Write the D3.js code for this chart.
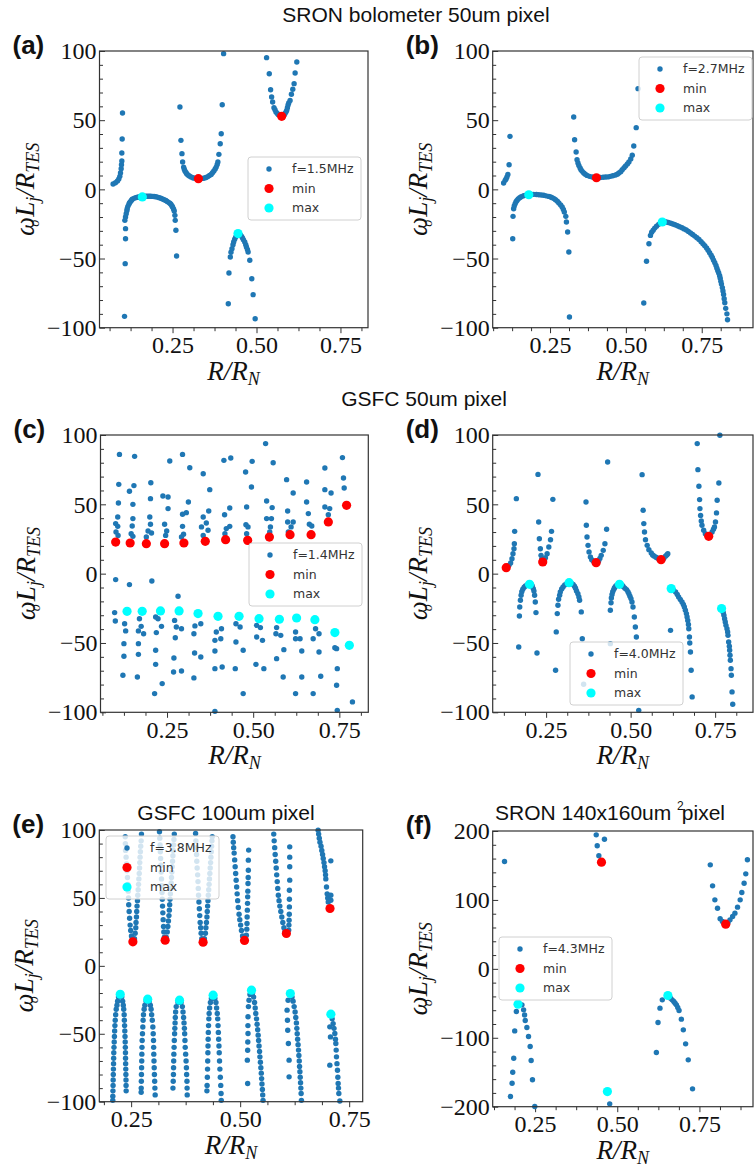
<!DOCTYPE html>
<html lang="en">
<head>
<meta charset="utf-8">
<title>Chart</title>
<script src="https://d3js.org/d3.v7.min.js"></script>
<style>
body { margin: 0; background: #fff; }
</style>
</head>
<body>
<script>
// ---------- data (x = R/R_N, y = omega L_j / R_TES) ----------
var freqLabels = ["f=1.5MHz", "f=2.7MHz", "f=1.4MHz", "f=4.0MHz", "f=3.8MHz", "f=4.3MHz"];
var xTicks = [0.25, 0.5, 0.75];
var yTicks100 = [-100, -50, 0, 50, 100];
var yTicks200 = [-200, -100, 0, 100, 200];

var aBlue = [[0.073,3.9],[0.080,4.8],[0.086,6.0],[0.090,7.5],[0.093,9.4],[0.095,11.8],[0.097,14.9],[0.098,17.8],[0.099,20.5],[0.099,26.3],[0.100,36.4],[0.101,55.2],
[0.107,-91.8],[0.109,-53.7],[0.110,-35.7],[0.110,-28.4],[0.108,-22.4],[0.110,-20],[0.112,-17.6],[0.114,-15.5],[0.115,-14],[0.117,-12.3],[0.12,-10.8],[0.122,-9.7],[0.125,-8.7],[0.128,-7.8],[0.13,-7.2],[0.135,-6.5],[0.14,-6],[0.145,-5.7],[0.15,-5.5],[0.155,-5.4],[0.165,-5.2],[0.17,-5],[0.175,-5],[0.18,-5],[0.185,-5],[0.19,-5.1],[0.195,-5.2],[0.2,-5.4],[0.205,-5.6],[0.21,-6],[0.215,-6.4],[0.22,-7],[0.225,-7.5],[0.23,-8],[0.234,-8.7],[0.238,-9.4],[0.242,-10.1],[0.245,-10.8],[0.248,-11.8],[0.25,-12.8],[0.253,-14.2],[0.255,-15.7],[0.257,-18.8],[0.258,-22.4],[0.26,-29.6],[0.262,-48.2],
[0.272,59.5],[0.275,35.4],[0.278,25.8],[0.28,19.8],[0.283,16.1],[0.285,14.5],[0.287,13.3],[0.29,12.2],[0.292,11.3],[0.296,10.4],[0.3,9.6],[0.305,9],[0.31,8.4],[0.315,8.1],[0.32,8],[0.335,7.8],[0.34,7.9],[0.345,8.2],[0.35,8.6],[0.355,9.2],[0.36,10],[0.365,10.8],[0.369,12],[0.373,13.3],[0.377,14.7],[0.38,16.1],[0.383,18],[0.385,19.8],[0.388,25.3],[0.392,33],[0.395,40.2],[0.398,61.2],[0.402,98.1],
[0.416,-82.7],[0.418,-60.5],[0.422,-48.9],[0.424,-45.5],[0.427,-42.9],[0.43,-40],[0.432,-38],[0.435,-36],[0.438,-34.5],[0.441,-33.3],[0.449,-32.3],[0.452,-33],[0.455,-33.8],[0.458,-35],[0.461,-36.4],[0.465,-38],[0.468,-40],[0.47,-41.7],[0.473,-43.5],[0.475,-45.3],[0.48,-51.3],[0.486,-64.6],[0.49,-76.1],[0.496,-93.5],
[0.53,95.2],[0.538,83.6],[0.542,72],[0.545,66.7],[0.548,63.1],[0.552,59],[0.555,57.5],[0.558,55.9],[0.562,54.8],[0.565,54],[0.57,53.3],[0.58,53.2],[0.582,53.8],[0.585,54.8],[0.588,56],[0.59,57.1],[0.592,59],[0.594,61],[0.596,62.5],[0.6,64.3],[0.604,68.7],[0.608,72.4],[0.612,76.4],[0.615,84.1],[0.62,92]];
var aMin = [[0.327,7.7],[0.575,52.8]];
var aMax = [[0.16,-5.5],[0.445,-32]];

var bBlue = [[0.097,4.6],[0.102,6.5],[0.105,7.5],[0.108,8.9],[0.111,10.8],[0.115,17.8],[0.118,38.3],
[0.127,-35.7],[0.128,-19.5],[0.13,-14],[0.132,-12],[0.135,-10.4],[0.138,-9],[0.141,-8],[0.145,-7],[0.15,-6],[0.155,-5.3],[0.163,-4.6],[0.17,-4.2],[0.188,-3.7],[0.196,-3.6],[0.205,-3.7],[0.213,-3.9],[0.221,-4.1],[0.229,-4.3],[0.237,-4.7],[0.246,-5.1],[0.252,-5.5],[0.257,-6],[0.263,-6.7],[0.268,-7.5],[0.274,-8.6],[0.279,-9.9],[0.285,-11.3],[0.29,-12.8],[0.294,-14.5],[0.297,-16.4],[0.302,-19.5],[0.304,-23.6],[0.308,-30.8],[0.312,-45.3],[0.314,-92.3],
[0.328,52.3],[0.331,35.9],[0.336,27],[0.339,21.4],[0.342,19],[0.345,17.3],[0.349,15.5],[0.352,14.2],[0.356,13],[0.361,11.8],[0.366,10.9],[0.372,10.1],[0.38,9.4],[0.389,8.9],[0.396,8.6],[0.41,8.5],[0.416,8.6],[0.425,8.7],[0.433,8.9],[0.441,9],[0.449,9.4],[0.457,9.8],[0.466,10.4],[0.472,11],[0.477,11.8],[0.483,12.8],[0.488,14.2],[0.494,15.6],[0.499,16.9],[0.505,18.4],[0.51,19.8],[0.516,22],[0.521,24.6],[0.526,31.3],[0.534,44.6],[0.54,72.8],
[0.559,-82.2],[0.568,-52],[0.576,-39.3],[0.581,-33.3],[0.585,-31],[0.59,-29.6],[0.595,-28],[0.601,-26.7],[0.608,-25.3],[0.614,-24.3],[0.627,-23.3],[0.633,-23.6],[0.64,-24],[0.648,-24.5],[0.655,-25],[0.662,-25.6],[0.67,-26.3],[0.677,-27],[0.685,-27.8],[0.692,-28.6],[0.699,-29.4],[0.706,-30.4],[0.713,-31.5],[0.72,-32.6],[0.727,-33.8],[0.734,-35],[0.741,-36.3],[0.748,-37.8],[0.754,-39.3],[0.76,-40.8],[0.766,-42.4],[0.771,-44],[0.776,-45.8],[0.781,-47.6],[0.785,-49.3],[0.789,-51.3],[0.793,-53],[0.797,-55],[0.8,-57],[0.803,-58.8],[0.806,-60.5],[0.809,-62.5],[0.811,-64.3],[0.813,-66.5],[0.815,-68.5],[0.818,-71],[0.82,-73.5],[0.822,-76],[0.824,-79],[0.826,-82],[0.829,-86],[0.833,-90],[0.835,-94.2]];
var bMin = [[0.403,8.4]];
var bMax = [[0.18,-3.9],[0.62,-23.6]];

var cBlue = [[0.112,86],[0.156,84.6],[0.258,81.3],[0.295,86],[0.316,76.4],[0.355,72.1],[0.374,60.6],[0.415,81.7],[0.435,83.4],[0.478,73.3],[0.497,81],[0.495,62.5],[0.536,93.8],[0.558,80],[0.597,67.8],[0.616,58.2],[0.655,66.1],[0.708,76.2],[0.708,60.6],[0.726,58.2],[0.759,83.7],[0.762,69],[0.764,61.8],
[0.110,64.4],[0.154,63.5],[0.141,59.4],[0.203,65.6],[0.202,54.1],[0.238,56],[0.253,55.3],[0.253,46.9],[0.312,51.7],[0.295,42.8],[0.306,44],[0.371,45.2],[0.355,40.9],[0.432,47.4],[0.417,42.5],[0.481,48.1],[0.479,35.3],[0.539,52.4],[0.555,47.6],[0.539,39.7],[0.553,39.7],[0.6,45.2],[0.6,37.3],[0.616,37.3],[0.655,51.7],[0.66,43.3],[0.663,35.6],[0.67,34.4],[0.708,48.1],[0.722,46.9],[0.718,42.5],
[0.109,51],[0.107,40.9],[0.101,36.1],[0.107,34.1],[0.102,30],[0.108,27.6],[0.151,50],[0.151,39.7],[0.149,34.4],[0.146,28.8],[0.151,26.9],[0.2,40.9],[0.202,35.6],[0.195,30.8],[0.205,29.3],[0.19,26.4],[0.243,35.6],[0.249,30.8],[0.246,27.6],[0.295,34.1],[0.298,28.4],[0.292,26.4],[0.35,33.7],[0.364,36.5],[0.355,27.6],[0.369,31.3],[0.422,32.5],[0.432,34.1],[0.418,28.8],[0.485,33.7],[0.481,28.8],[0.55,33.7],[0.548,30],[0.602,30],[0.61,33.7],
[0.101,-4.3],[0.141,-7.9],[0.206,-5.3],[0.282,-16.3],[0.098,-28.1],[0.1,-34.1],
[0.127,-36.1],[0.13,-41.3],[0.125,-50.5],[0.125,-59.6],[0.122,-73.3],[0.17,-32.5],[0.175,-38],[0.167,-41.3],[0.182,-43.3],[0.167,-50.5],[0.167,-58.2],[0.164,-74.5],[0.217,-31.3],[0.224,-32.5],[0.234,-38],[0.219,-42.5],[0.217,-55.3],[0.217,-65.4],[0.214,-86.5],[0.236,-79.3],[0.272,-33.7],[0.277,-38.5],[0.292,-39.7],[0.274,-46.2],[0.27,-60.8],[0.269,-70.9],[0.292,-70.2],[0.331,-37.7],[0.348,-36.1],[0.328,-43.3],[0.33,-57.2],[0.348,-60.1],[0.328,-75.2],[0.393,-42.1],[0.408,-39.7],[0.389,-48.1],[0.406,-46.9],[0.389,-55.8],[0.389,-68.5],[0.41,-67.3],[0.389,-99.3],[0.45,-36.1],[0.462,-38.5],[0.45,-49.3],[0.471,-55.3],[0.448,-68.5],[0.471,-86.5],[0.51,-37.3],[0.521,-38.9],[0.51,-45.7],[0.527,-48.1],[0.508,-65.4],[0.531,-68.5],[0.568,-38.9],[0.566,-43.3],[0.58,-44.5],[0.568,-61.3],[0.589,-54.8],[0.587,-74.5],[0.623,-42.1],[0.636,-46.9],[0.623,-46.9],[0.641,-55.8],[0.641,-74.5],[0.623,-86.5],[0.681,-39.7],[0.691,-43.3],[0.674,-46.9],[0.691,-56.5],[0.696,-74],[0.674,-86.5],[0.742,-54.1],[0.737,-53.4],[0.744,-68.5],[0.742,-80.5],[0.744,-98.6],[0.788,-92.5]];
var cMin = [[0.101,22.8],[0.143,22.1],[0.19,21.6],[0.243,21.6],[0.299,22.1],[0.361,23.3],[0.42,24.5],[0.484,24],[0.547,26.4],[0.607,28.1],[0.668,28.1],[0.718,37.3],[0.771,49.3]];
var cMax = [[0.134,-27.2],[0.178,-27.2],[0.231,-26.9],[0.285,-26.9],[0.34,-28.8],[0.398,-30.8],[0.459,-30.8],[0.517,-32.5],[0.576,-32.9],[0.626,-32],[0.679,-33.2],[0.737,-42.5],[0.779,-51.7]];

var dBlue = [[0.14,6],[0.145,7.7],[0.149,10.8],[0.152,14.4],[0.155,18],[0.156,21.6],[0.157,30.5],[0.162,54.1],
[0.226,71.6],[0.228,37.3],[0.23,25.2],[0.233,18],[0.235,13.2],[0.237,10.5],[0.245,9.5],[0.248,11.5],[0.253,14.4],[0.258,19.2],[0.263,24.5],[0.266,30.5],[0.27,53.6],
[0.368,51.7],[0.369,34.9],[0.371,26.4],[0.374,20.4],[0.377,15.6],[0.381,12],[0.385,10],[0.39,9],[0.405,9],[0.409,11],[0.413,13.2],[0.419,16.8],[0.424,21.6],[0.429,32],[0.432,80.5],
[0.534,71.4],[0.537,45.7],[0.539,36.1],[0.541,30],[0.544,24.5],[0.549,20.4],[0.554,17.3],[0.561,14.9],[0.565,13.5],[0.569,12.7],[0.575,11.8],[0.579,11.3],[0.584,10.6],[0.598,11],[0.603,12.5],[0.607,13.5],[0.61,14.4],
[0.697,93.8],[0.699,75],[0.702,63],[0.704,53.4],[0.705,46.9],[0.707,42],[0.709,38],[0.711,34.9],[0.716,31.3],[0.721,28.8],[0.741,30],[0.745,32],[0.748,33.7],[0.751,37.3],[0.754,43.8],[0.756,52.9],[0.761,65.4],[0.764,99.8],
[0.169,-52.9],[0.171,-30.5],[0.172,-24],[0.174,-19.2],[0.176,-15.6],[0.178,-13],[0.181,-11.3],[0.185,-9.8],[0.189,-8.9],[0.194,-8.2],[0.207,-8],[0.209,-9],[0.212,-10.8],[0.214,-12.5],[0.216,-15.6],[0.218,-20.4],[0.22,-28.1],[0.223,-57.2],
[0.278,-69.7],[0.28,-42],[0.283,-28.8],[0.285,-22.8],[0.287,-18.5],[0.29,-15.5],[0.292,-13.2],[0.296,-11],[0.3,-9.6],[0.305,-8.2],[0.311,-7.2],[0.325,-7],[0.33,-7.8],[0.334,-9],[0.337,-10.5],[0.34,-12.5],[0.344,-14.5],[0.347,-16.8],[0.349,-19.2],[0.354,-27.6],[0.357,-46.9],[0.361,-79.8],
[0.44,-50.5],[0.44,-26.4],[0.442,-21],[0.443,-17.5],[0.445,-15],[0.447,-13],[0.45,-11.5],[0.452,-10.3],[0.455,-9.3],[0.458,-8.5],[0.475,-8.3],[0.478,-9.3],[0.483,-10.5],[0.488,-11.5],[0.492,-13],[0.495,-14.5],[0.498,-16.3],[0.501,-18],[0.504,-20.5],[0.507,-24],[0.511,-31.3],[0.514,-38.5],[0.517,-45.7],[0.524,-98.6],
[0.618,-40.9],[0.627,-12],[0.633,-13.2],[0.638,-15],[0.642,-16.8],[0.647,-18.6],[0.652,-20.4],[0.656,-22.2],[0.659,-24],[0.662,-26.4],[0.665,-28.8],[0.667,-31.2],[0.669,-33.7],[0.671,-36.7],[0.672,-39.7],[0.674,-45.7],[0.675,-50],[0.677,-56.5],[0.679,-69.7],[0.682,-88.9],
[0.774,-28],[0.776,-30],[0.778,-32.5],[0.78,-34.9],[0.782,-37.3],[0.785,-39.7],[0.787,-42],[0.788,-44.5],[0.79,-49.3],[0.792,-52.3],[0.793,-55.3],[0.794,-58.8],[0.795,-62.5],[0.797,-68.5],[0.798,-73.3],[0.8,-85.3],[0.802,-94.2]];
var dMin = [[0.132,4.3],[0.24,8.4],[0.398,7.9],[0.59,10.1],[0.731,26.9]];
var dMax = [[0.201,-7.7],[0.318,-6.5],[0.467,-7.7],[0.62,-10.8],[0.769,-25.2]];

var eBlue = [
[0.2365,95],[0.2368,90],[0.2372,85],[0.2385,80],[0.2395,75],[0.2405,70],[0.2416,65],[0.2427,60],[0.2435,55],[0.244,50],[0.2445,45],[0.2455,40],[0.2465,35],[0.2477,30],[0.249,26],[0.2508,22],[0.2523,19],
[0.2577,20],[0.2592,24],[0.2607,28],[0.2612,32],[0.2622,36],[0.2628,40],[0.2635,44],[0.2645,48],[0.2652,52],[0.2661,56],[0.267,60],[0.2677,64],[0.2686,68],[0.2693,72],[0.2698,76],[0.2705,80],[0.2712,84],[0.272,88],[0.273,92],[0.2737,97],
[0.315,98.7],[0.3157,94],[0.3164,89],[0.317,84],[0.3176,79],[0.3182,74],[0.3189,69],[0.3196,64],[0.3202,59],[0.3208,54],[0.3214,49],[0.322,44],[0.3227,39],[0.3235,34],[0.3243,29],[0.325,25],[0.3262,21],
[0.3305,21],[0.3328,25],[0.3342,29],[0.3355,33],[0.3367,37],[0.3376,41],[0.3384,45],[0.3392,49],[0.34,53],[0.3409,57],[0.3418,61],[0.3426,65],[0.3434,69],[0.3442,73],[0.345,77],[0.3458,81],[0.3466,85],[0.3474,89],[0.3482,93],[0.349,97],
[0.3978,97.4],[0.3985,92],[0.3993,87],[0.4,82],[0.4006,77],[0.4014,72],[0.4025,67],[0.4033,62],[0.404,57],[0.4046,52],[0.4055,47],[0.4064,42],[0.4073,37],[0.4083,32],[0.4095,28],[0.4105,24],[0.412,20],
[0.418,20],[0.4203,24],[0.4215,28],[0.4227,32],[0.4238,36],[0.4246,40],[0.4254,44],[0.4262,48],[0.427,52],[0.4279,56],[0.4288,60],[0.4296,64],[0.4305,68],[0.4313,72],[0.4322,76],[0.433,80],[0.4338,84],[0.4345,88],[0.4353,92],[0.436,95],
[0.4835,95],[0.4843,91],[0.4851,87],[0.4862,83],[0.4874,78],[0.4886,73],[0.4897,68],[0.4908,63],[0.492,58],[0.4931,53],[0.4943,48],[0.4958,43],[0.4975,38],[0.4992,34],[0.5011,30],[0.503,26],[0.5055,22],[0.508,19],
[0.5142,22.6],[0.5152,27],[0.5157,31.2],[0.516,36],[0.5165,41],[0.5169,46],[0.5172,50.8],[0.5176,55],[0.518,60.6],[0.5184,65],[0.5188,70.4],[0.5188,77.8],[0.5195,85.2],
[0.577,97],[0.578,92],[0.5792,87],[0.5803,82],[0.5815,77],[0.5827,72],[0.5838,67],[0.585,62],[0.5862,57],[0.5876,52],[0.5892,48],[0.591,44],[0.5932,40],[0.5955,36],[0.5978,32],[0.6003,28],[0.6025,25],
[0.6114,26.3],[0.6118,30],[0.6122,33.6],[0.6126,38],[0.6129,43.4],[0.6129,49],[0.6129,55.7],[0.6137,63.1],[0.6137,72.9],[0.6137,80],[0.6137,87.6],
[0.6788,99.9],[0.68,97],[0.6815,94],[0.683,91],[0.6855,88],[0.6872,85],[0.689,82],[0.6905,79],[0.6922,76],[0.6935,73],[0.6949,70],[0.6958,67],[0.6964,64],[0.698,58],[0.6995,53],[0.7008,50],[0.702,47],[0.7079,48.3],[0.7079,52],[0.7079,77.3],
[0.221,-23],[0.219,-26],[0.2175,-29],[0.2158,-32],[0.2145,-36],[0.2135,-40],[0.2128,-44],[0.2122,-48],[0.2117,-52],[0.2112,-56],[0.2107,-60],[0.2102,-64],[0.2099,-68],[0.2097,-72],[0.2094,-76],[0.2091,-80],[0.2088,-84],[0.2086,-88],[0.2083,-92],[0.208,-96],[0.2079,-99],
[0.2285,-23],[0.2305,-26],[0.232,-29],[0.233,-32],[0.234,-36],[0.2345,-40],[0.235,-44],[0.2355,-48],[0.236,-52],[0.2364,-56],[0.2367,-60],[0.237,-64],[0.2372,-68],[0.2374,-72],[0.2377,-76],[0.238,-80],[0.2382,-84],[0.2384,-88],[0.2386,-92],
[0.2845,-26],[0.2815,-29],[0.2798,-32],[0.2783,-36],[0.2775,-40],[0.2768,-45],[0.276,-50],[0.2753,-55],[0.2749,-60],[0.2746,-65],[0.2743,-70],[0.274,-75],[0.2737,-80],[0.2734,-85],[0.2731,-90],[0.273,-93],
[0.2915,-26],[0.294,-29],[0.2958,-32],[0.297,-36],[0.2985,-40],[0.2998,-45],[0.3006,-50],[0.3013,-55],[0.3017,-60],[0.302,-65],[0.3024,-70],[0.3029,-75],[0.3034,-80],[0.304,-85],[0.3045,-90],[0.3051,-95],
[0.3575,-27],[0.3534,-30],[0.352,-34],[0.3513,-38],[0.3508,-42],[0.3502,-46],[0.3497,-50],[0.349,-55],[0.3485,-60],[0.348,-65],[0.3476,-70],[0.3473,-75],[0.347,-80],[0.3465,-85],[0.3459,-90],
[0.3645,-27],[0.3675,-30],[0.369,-34],[0.3703,-38],[0.3713,-42],[0.3722,-46],[0.3728,-50],[0.3734,-55],[0.374,-60],[0.375,-65],[0.376,-70],[0.3768,-75],[0.3773,-80],[0.378,-85],[0.3783,-90],[0.3786,-95],
[0.434,-24],[0.4318,-27],[0.43,-31],[0.4289,-35],[0.4282,-39],[0.4275,-44],[0.427,-49],[0.4266,-54],[0.4263,-59],[0.426,-64],[0.4256,-70],[0.4252,-76],[0.4248,-82],[0.4242,-88],[0.4238,-92],
[0.442,-24],[0.4445,-27],[0.446,-31],[0.4475,-35],[0.4485,-39],[0.4493,-44],[0.45,-49],[0.4507,-54],[0.4514,-59],[0.452,-64],[0.4527,-70],[0.4535,-76],[0.4545,-82],[0.4555,-88],[0.4562,-94],[0.4567,-99],
[0.5225,-21],[0.5203,-25.3],[0.519,-30],[0.518,-37.5],[0.5178,-44],[0.518,-49.8],[0.5175,-56],[0.5172,-62.1],[0.5165,-69.4],[0.5172,-86.6],
[0.5285,-20],[0.531,-23],[0.533,-27],[0.5345,-31],[0.5358,-35],[0.5375,-39],[0.5388,-43],[0.5402,-47],[0.5413,-51],[0.5423,-55],[0.5433,-59],[0.5445,-63],[0.5453,-67],[0.5464,-71],[0.5475,-75],[0.5485,-79],[0.5492,-83],[0.55,-87],[0.551,-91],[0.5517,-95],[0.5525,-99],
[0.6099,-25.3],[0.6076,-32.6],[0.6085,-40],[0.6091,-47.4],[0.6106,-57.2],[0.6122,-69.4],[0.6122,-81.7],
[0.619,-23],[0.6214,-26],[0.6238,-30],[0.626,-34],[0.6275,-38],[0.629,-42],[0.63,-46],[0.6308,-50],[0.6318,-54],[0.6328,-58],[0.6338,-62],[0.6347,-66],[0.6355,-70],[0.6362,-74],[0.637,-78],[0.6377,-82],[0.6385,-86],[0.6392,-90],[0.6398,-94],[0.6405,-99],
[0.7056,-44.9],[0.7071,-52.3],[0.7056,-73.1],
[0.711,-39],[0.7132,-42.5],[0.7152,-46],[0.7171,-49.8],[0.7185,-54],[0.7194,-57.2],[0.7202,-62],[0.7209,-67],[0.722,-72],[0.7232,-76.8],[0.724,-82],[0.7247,-86.6],[0.7255,-90],[0.7263,-94],[0.7286,-99.5]];
var eMin = [[0.254,17.7],[0.328,18.9],[0.415,17.4],[0.51,18.7],[0.606,23.8],[0.706,42.2]];
var eMax = [[0.225,-20.9],[0.288,-24.5],[0.361,-25.3],[0.438,-21.6],[0.526,-17.9],[0.615,-20.4],[0.708,-35.6]];

var fBlue = [[0.157,155.7],[0.436,194.4],[0.439,178.5],[0.444,164],[0.461,188.1],
[0.783,150.9],[0.79,120.4],[0.797,100.1],[0.805,88],[0.813,72.6],[0.82,68.7],[0.837,67.2],[0.843,71.1],[0.851,75.9],[0.858,80.8],[0.866,89.5],[0.874,100.1],[0.879,110.8],[0.886,124.3],[0.891,137.8],[0.896,158.2],
[0.193,-61.9],[0.188,-90],[0.185,-129.6],[0.182,-150],[0.18,-166],[0.175,-185.2],[0.21,-52.2],[0.215,-59.5],[0.218,-67],[0.22,-75],[0.225,-85.1],[0.23,-98.2],[0.235,-112.7],[0.238,-133],[0.242,-161],[0.249,-199.8],
[0.477,-195.9],
[0.637,-45],[0.63,-57],[0.624,-77.9],[0.619,-121.4],[0.662,-42.6],[0.667,-45],[0.672,-47.4],[0.676,-50],[0.68,-52.2],[0.684,-56],[0.688,-60.5],[0.695,-73],[0.701,-88.5],[0.708,-108.8],[0.716,-132],[0.729,-174.1]];
var fMin = [[0.452,154.8],[0.83,64.8]];
var fMax = [[0.198,-51.3],[0.47,-178],[0.654,-38.7]];

// ---------- layout ----------
var w = 754, h = 1168;
var svg = d3.select("body").append("svg").attr("width", w).attr("height", h);

var panels = [
  {tag:"(a)", blue:aBlue, min:aMin, max:aMax, f:freqLabels[0], box:[99.5,368,51,327.7], xd:[0.0325,0.832], yt:yTicks100, leg:[248,157]},
  {tag:"(b)", blue:bBlue, min:bMin, max:bMax, f:freqLabels[1], box:[492.7,753,51,327.7], xd:[0.061,0.919], yt:yTicks100, leg:[639,57]},
  {tag:"(c)", blue:cBlue, min:cMin, max:cMax, f:freqLabels[2], box:[100.5,368.3,435,712.3], xd:[0.057,0.834], yt:yTicks100, leg:[249,543]},
  {tag:"(d)", blue:dBlue, min:dMin, max:dMax, f:freqLabels[3], box:[492.7,753,435,712.3], xd:[0.092,0.862], yt:yTicks100, leg:[570,642]},
  {tag:"(e)", blue:eBlue, min:eMin, max:eMax, f:freqLabels[4], box:[99.3,362.7,830,1101.7], xd:[0.177,0.781], yt:yTicks100, leg:[106,836]},
  {tag:"(f)", blue:fBlue, min:fMin, max:fMax, f:freqLabels[5], box:[492.7,753,831,1106.7], xd:[0.121,0.913], yt:yTicks200, leg:[499,937]}
];

var serif = "'Liberation Serif', 'DejaVu Serif', serif";
var sans = "'Liberation Sans', Arial, sans-serif";
var blue = "#1f77b4";

panels.forEach(function(p) {
  var L = p.box[0], R = p.box[1], T = p.box[2], B = p.box[3];
  var x = d3.scaleLinear().domain(p.xd).range([L, R]);
  var yd = [p.yt[0], p.yt[p.yt.length - 1]];
  var y = d3.scaleLinear().domain(yd).range([B, T]);
  var g = svg.append("g");

  // minor ticks
  var xm = d3.range(Math.ceil(p.xd[0] / 0.0625) * 0.0625, p.xd[1], 0.0625)
    .filter(function(v) { return Math.abs(v / 0.25 - Math.round(v / 0.25)) > 1e-6; });
  var ystep = (p.yt[1] - p.yt[0]) / 5;
  var ym = d3.range(yd[0], yd[1] + 1e-9, ystep)
    .filter(function(v) { return p.yt.indexOf(Math.round(v)) < 0; });

  g.append("g").attr("transform", "translate(0," + B + ")")
    .call(d3.axisBottom(x).tickValues(xm).tickFormat("").tickSize(3.5))
    .call(function(s) { s.select(".domain").remove(); s.selectAll("line").attr("stroke", "#333"); });
  g.append("g").attr("transform", "translate(" + L + ",0)")
    .call(d3.axisLeft(y).tickValues(ym).tickFormat("").tickSizeInner(-3.5).tickSizeOuter(0))
    .call(function(s) { s.select(".domain").remove(); s.selectAll("line").attr("stroke", "#333"); });

  // major ticks
  g.append("g").attr("transform", "translate(0," + B + ")")
    .call(d3.axisBottom(x).tickValues(xTicks).tickFormat(d3.format(".2f")).tickSize(5.5).tickPadding(3))
    .call(function(s) {
      s.select(".domain").remove();
      s.selectAll("line").attr("stroke", "#333");
      s.selectAll("text").attr("font-family", serif).attr("font-size", 24).attr("fill", "#111");
    });
  g.append("g").attr("transform", "translate(" + L + ",0)")
    .call(d3.axisLeft(y).tickValues(p.yt).tickSizeInner(-5.5).tickSizeOuter(0).tickPadding(3))
    .call(function(s) {
      s.select(".domain").remove();
      s.selectAll("line").attr("stroke", "#333");
      s.selectAll("text").attr("font-family", serif).attr("font-size", 24).attr("fill", "#111");
    });

  // points
  g.append("g").selectAll("circle").data(p.blue).enter().append("circle")
    .attr("cx", function(d) { return x(d[0]); })
    .attr("cy", function(d) { return y(d[1]); })
    .attr("r", 2.7).attr("fill", blue);
  g.append("g").selectAll("circle").data(p.min).enter().append("circle")
    .attr("cx", function(d) { return x(d[0]); })
    .attr("cy", function(d) { return y(d[1]); })
    .attr("r", 4.6).attr("fill", "#ff0000");
  g.append("g").selectAll("circle").data(p.max).enter().append("circle")
    .attr("cx", function(d) { return x(d[0]); })
    .attr("cy", function(d) { return y(d[1]); })
    .attr("r", 4.6).attr("fill", "#00ffff");

  // frame
  g.append("rect").attr("x", L).attr("y", T).attr("width", R - L).attr("height", B - T)
    .attr("fill", "none").attr("stroke", "#333").attr("stroke-width", 1.2);

  // legend
  var lg = g.append("g").attr("transform", "translate(" + p.leg[0] + "," + p.leg[1] + ")");
  lg.append("rect").attr("width", 113).attr("height", 63).attr("rx", 3)
    .attr("fill", "#fff").attr("fill-opacity", 0.8).attr("stroke", "#d0d0d0");
  var rows = [[p.f, blue, 2.7], ["min", "#ff0000", 4.6], ["max", "#00ffff", 4.6]];
  rows.forEach(function(r, i) {
    var ry = 12 + i * 19.5;
    lg.append("circle").attr("cx", 21).attr("cy", ry).attr("r", r[2]).attr("fill", r[1]);
    lg.append("text").attr("x", 44).attr("y", ry).attr("dy", "0.35em")
      .attr("font-family", "'DejaVu Sans', sans-serif").attr("font-size", 12.5)
      .attr("fill", "#333").text(r[0]);
  });

  // axis labels
  var xl = g.append("text").attr("x", (L + Math.min(R, L + 268)) / 2).attr("y", B + 52)
    .attr("text-anchor", "middle").attr("font-family", serif).attr("font-style", "italic")
    .attr("font-size", 27).attr("fill", "#111");
  xl.append("tspan").text("R/R");
  xl.append("tspan").attr("font-size", 18).attr("dy", 5).text("N");

  var ylx = L - 66;
  var yl = g.append("text").attr("transform", "translate(" + ylx + "," + ((T + B) / 2) + ") rotate(-90)")
    .attr("text-anchor", "middle").attr("font-family", serif).attr("font-style", "italic")
    .attr("font-size", 27).attr("fill", "#111");
  yl.append("tspan").text("ω");
  yl.append("tspan").attr("font-size", 14).attr("dx", -10).attr("dy", 5).text("o");
  yl.append("tspan").attr("dx", 3).attr("dy", -5).text("L");
  yl.append("tspan").attr("font-size", 18).attr("dy", 5).text("j");
  yl.append("tspan").attr("dy", -5).text("/R");
  yl.append("tspan").attr("font-size", 18).attr("dy", 5).text("TES");

  // panel tag
  g.append("text").attr("x", L - 87).attr("y", T + 3)
    .attr("font-family", sans).attr("font-weight", "bold").attr("font-size", 26)
    .attr("fill", "#111").text(p.tag);
});

// titles
svg.append("text").attr("x", 416).attr("y", 22).attr("text-anchor", "middle")
  .attr("font-family", sans).attr("font-size", 21).attr("fill", "#111").text("SRON bolometer 50um pixel");
svg.append("text").attr("x", 424).attr("y", 406).attr("text-anchor", "middle")
  .attr("font-family", sans).attr("font-size", 21).attr("fill", "#111").text("GSFC 50um pixel");
svg.append("text").attr("x", 226).attr("y", 820).attr("text-anchor", "middle")
  .attr("font-family", sans).attr("font-size", 21).attr("fill", "#111").text("GSFC 100um pixel");
var ft = svg.append("text").attr("x", 610).attr("y", 820).attr("text-anchor", "middle")
  .attr("font-family", sans).attr("font-size", 21).attr("fill", "#111");
ft.append("tspan").text("SRON 140x160um ");
ft.append("tspan").attr("font-size", 12).attr("dy", -10).text("2");
ft.append("tspan").attr("dx", -2).attr("dy", 10).text("pixel");
</script>
</body>
</html>
